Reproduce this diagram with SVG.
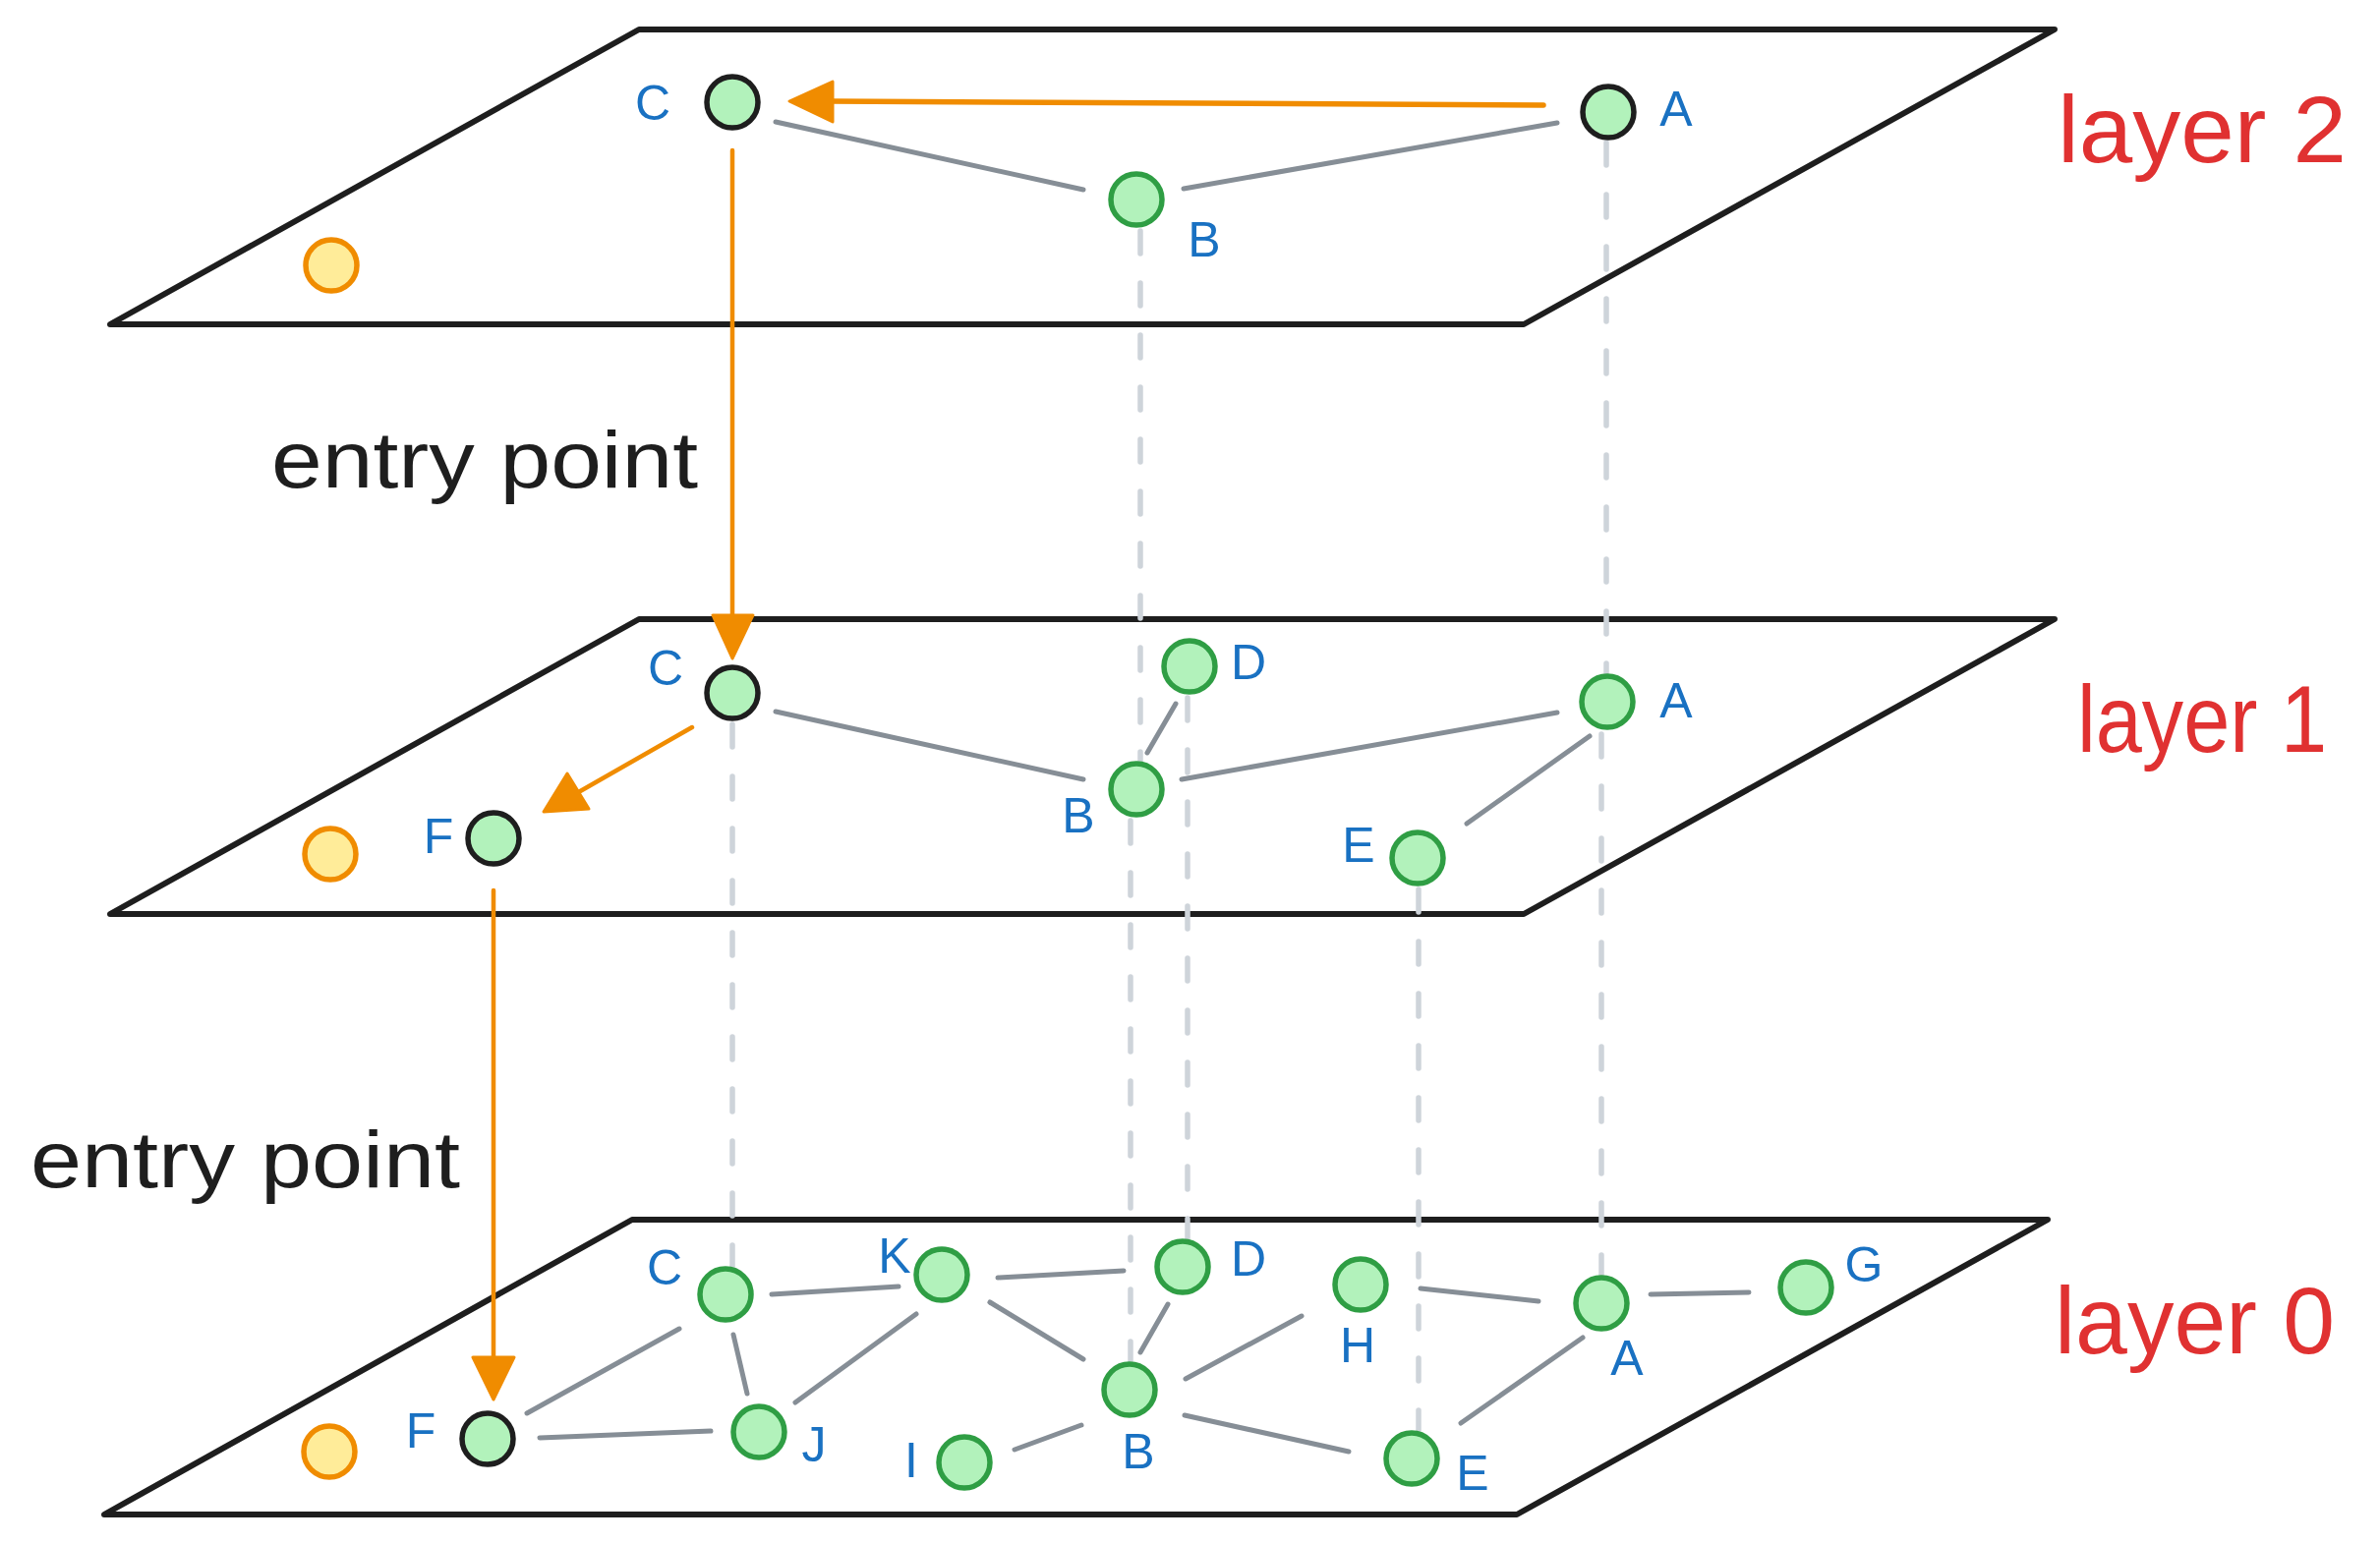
<svg xmlns="http://www.w3.org/2000/svg" width="2421" height="1570" viewBox="0 0 2421 1570">
<style>
.plane{fill:none;stroke:#1e1e1e;stroke-width:6;stroke-linejoin:round;stroke-linecap:round}
.n{fill:#b2f2bb;stroke:#2f9e44;stroke-width:5.5}
.nb{fill:#b2f2bb;stroke:#1e1e1e;stroke-width:5.5}
.ny{fill:#ffec99;stroke:#f08c00;stroke-width:5.5}
.e{stroke:#868e96;stroke-width:5;stroke-linecap:round;fill:none}
.d{stroke:#ced4da;stroke-width:5.5;stroke-linecap:round;stroke-dasharray:23 30;fill:none}
.o{stroke:#f08c00;stroke-linecap:round;fill:none}
.oh{fill:#f08c00;stroke:#f08c00;stroke-width:3;stroke-linejoin:round}
.lb{font-family:"Liberation Sans","DejaVu Sans",sans-serif;font-size:50px;fill:#1971c2;text-anchor:middle}
.ly{font-family:"Liberation Sans","DejaVu Sans",sans-serif;font-size:96px;fill:#e03131}
.ep{font-family:"Liberation Sans","DejaVu Sans",sans-serif;font-size:82px;fill:#1e1e1e}
</style>
<rect width="2421" height="1570" fill="#ffffff"/>
<g id="planes">
<polygon class="plane" points="650,30 2090,30 1550,330 112,330"/>
<polygon class="plane" points="650,630 2090,630 1550,930 112,930"/>
<polygon class="plane" points="643,1241 2083,1241 1543,1541 106,1541"/>
</g>
<g id="texts">
<text class="ly" x="2093" y="165" textLength="294" lengthAdjust="spacingAndGlyphs">layer 2</text>
<text class="ly" x="2113" y="765" textLength="254" lengthAdjust="spacingAndGlyphs">layer 1</text>
<text class="ly" x="2090" y="1377" textLength="285" lengthAdjust="spacingAndGlyphs">layer 0</text>
<text class="ep" x="276" y="496" textLength="434" lengthAdjust="spacingAndGlyphs">entry point</text>
<text class="ep" x="31" y="1208" textLength="437" lengthAdjust="spacingAndGlyphs">entry point</text>
</g>
<g id="connectors">
<line class="d" x1="1160" y1="235" x2="1160" y2="775"/>
<line class="d" x1="1150" y1="835" x2="1150" y2="1385"/>
<line class="d" x1="1634" y1="145" x2="1634" y2="685"/>
<line class="d" x1="1629" y1="747" x2="1629" y2="1297"/>
<line class="d" x1="745" y1="737" x2="745" y2="1290"/>
<line class="d" x1="1208" y1="710" x2="1208" y2="1262"/>
<line class="d" x1="1443" y1="905" x2="1443" y2="1455"/>
<line class="e" x1="789" y1="124" x2="1102" y2="193"/>
<line class="e" x1="1204" y1="192" x2="1584" y2="125"/>
<line class="e" x1="789" y1="724" x2="1102" y2="793"/>
<line class="e" x1="1167" y1="766" x2="1196" y2="716"/>
<line class="e" x1="1202" y1="793" x2="1584" y2="725"/>
<line class="e" x1="1617" y1="749" x2="1492" y2="838"/>
<line class="e" x1="785" y1="1317" x2="914" y2="1309"/>
<line class="e" x1="1015" y1="1300" x2="1143" y2="1293"/>
<line class="e" x1="691" y1="1352" x2="536" y2="1438"/>
<line class="e" x1="746" y1="1358" x2="760" y2="1418"/>
<line class="e" x1="932" y1="1337" x2="809" y2="1427"/>
<line class="e" x1="1007" y1="1325" x2="1102" y2="1383"/>
<line class="e" x1="549" y1="1463" x2="723" y2="1456"/>
<line class="e" x1="1032" y1="1475" x2="1100" y2="1450"/>
<line class="e" x1="1188" y1="1327" x2="1160" y2="1376"/>
<line class="e" x1="1206" y1="1403" x2="1324" y2="1339"/>
<line class="e" x1="1205" y1="1440" x2="1372" y2="1477"/>
<line class="e" x1="1445" y1="1311" x2="1565" y2="1324"/>
<line class="e" x1="1679" y1="1317" x2="1779" y2="1315"/>
<line class="e" x1="1610" y1="1361" x2="1486" y2="1448"/>
<line class="o" stroke-width="5.5" x1="1570" y1="107" x2="845" y2="103"/>
<polygon class="oh" points="803,103 847,83 847,124"/>
<line class="o" stroke-width="4.5" x1="745" y1="153" x2="745" y2="628"/>
<polygon class="oh" points="745,670 725,626 766,626"/>
<line class="o" stroke-width="4.5" x1="704" y1="740" x2="585" y2="808"/>
<polygon class="oh" points="553,826 577,787 599,823"/>
<line class="o" stroke-width="4.5" x1="502" y1="906" x2="502" y2="1383"/>
<polygon class="oh" points="502,1424 481,1381 523,1381"/>
</g>
<g id="l2-C"><circle class="nb" cx="745" cy="104" r="26"/><text class="lb" x="664" y="122">C</text></g>
<g id="l2-A"><circle class="nb" cx="1636" cy="114" r="26"/><text class="lb" x="1705" y="128">A</text></g>
<g id="l2-B"><circle class="n" cx="1156" cy="203" r="26"/><text class="lb" x="1225" y="261">B</text></g>
<g id="l2-entry"><circle class="ny" cx="337" cy="270" r="26"/></g>
<g id="l1-C"><circle class="nb" cx="745" cy="705" r="26"/><text class="lb" x="677" y="697">C</text></g>
<g id="l1-F"><circle class="nb" cx="502" cy="853" r="26"/><text class="lb" x="446" y="868">F</text></g>
<g id="l1-B"><circle class="n" cx="1156" cy="803" r="26"/><text class="lb" x="1097" y="847">B</text></g>
<g id="l1-D"><circle class="n" cx="1210" cy="678" r="26"/><text class="lb" x="1270" y="691">D</text></g>
<g id="l1-A"><circle class="n" cx="1635" cy="714" r="26"/><text class="lb" x="1705" y="730">A</text></g>
<g id="l1-E"><circle class="n" cx="1442" cy="873" r="26"/><text class="lb" x="1382" y="877">E</text></g>
<g id="l1-entry"><circle class="ny" cx="336" cy="869" r="26"/></g>
<g id="l0-C"><circle class="n" cx="738" cy="1317" r="26"/><text class="lb" x="676" y="1307">C</text></g>
<g id="l0-K"><circle class="n" cx="958" cy="1297" r="26"/><text class="lb" x="910" y="1295">K</text></g>
<g id="l0-D"><circle class="n" cx="1203" cy="1289" r="26"/><text class="lb" x="1270" y="1298">D</text></g>
<g id="l0-H"><circle class="n" cx="1384" cy="1307" r="26"/><text class="lb" x="1381" y="1386">H</text></g>
<g id="l0-A"><circle class="n" cx="1629" cy="1326" r="26"/><text class="lb" x="1655" y="1399">A</text></g>
<g id="l0-G"><circle class="n" cx="1837" cy="1310" r="26"/><text class="lb" x="1896" y="1304">G</text></g>
<g id="l0-F"><circle class="nb" cx="496" cy="1464" r="26"/><text class="lb" x="428" y="1473">F</text></g>
<g id="l0-J"><circle class="n" cx="772" cy="1457" r="26"/><text class="lb" x="828" y="1487">J</text></g>
<g id="l0-I"><circle class="n" cx="981" cy="1488" r="26"/><text class="lb" x="927" y="1503">I</text></g>
<g id="l0-B"><circle class="n" cx="1149" cy="1414" r="26"/><text class="lb" x="1158" y="1494">B</text></g>
<g id="l0-E"><circle class="n" cx="1436" cy="1484" r="26"/><text class="lb" x="1498" y="1516">E</text></g>
<g id="l0-entry"><circle class="ny" cx="335" cy="1477" r="26"/></g>
</svg>
